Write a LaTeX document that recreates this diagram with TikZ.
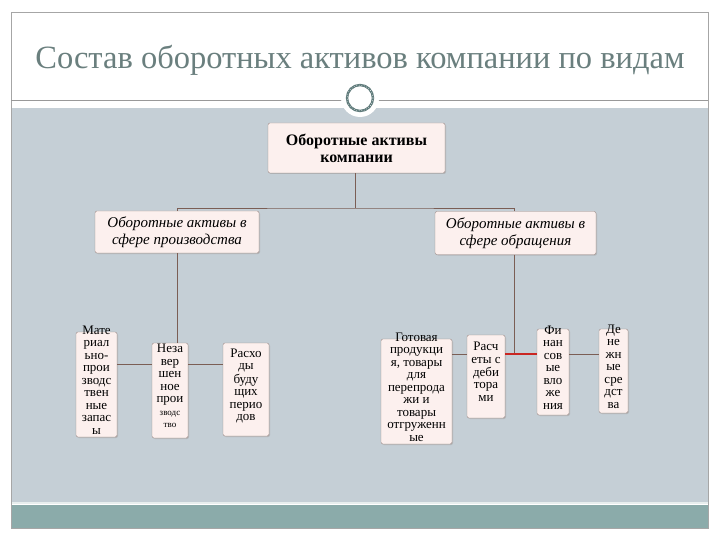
\documentclass[tikz,border=0pt]{standalone}
\usepackage{fontspec}
\setmainfont{Liberation Serif}
\usetikzlibrary{shadows}

\definecolor{slidebg}{HTML}{C5CFD6}
\definecolor{bandteal}{HTML}{8BABAA}
\definecolor{titlegray}{HTML}{6A7F7E}
\definecolor{ringteal}{HTML}{5F7B7B}
\definecolor{boxfill}{HTML}{FCF0EE}
\definecolor{boxline}{HTML}{9C8A86}
\definecolor{linkbrown}{HTML}{7B5E55}

\newcommand{\cellText}[1]{\smash{\begin{tabular}{@{}c@{}}#1\end{tabular}}}

\tikzset{
  box/.style={draw=boxline,fill=boxfill,rounded corners=2pt,inner sep=0pt,
    drop shadow={shadow xshift=1pt,shadow yshift=-1pt,fill=black!35,opacity=.6}},
  cell/.style={box,font=\fontsize{13}{12.5}\selectfont},
  link/.style={draw=linkbrown,line width=0.8pt}
}

\begin{document}
\begin{tikzpicture}[x=1pt,y=-1pt]
  \useasboundingbox (0,0) rectangle (720,540);
  % slide background
  \fill[white] (0,0) rectangle (720,540);
  \fill[slidebg] (11,108) rectangle (708,503);
  \fill[bandteal] (11,505) rectangle (708,528);
  \draw[white!80!bandteal,line width=1.5pt] (11,503) -- (708,503);
  \draw[gray!70,line width=0.6pt] (11,12) rectangle (708,528);
  \draw[gray!80,line width=0.8pt] (11,100) -- (708,100);
  \node[text=titlegray,font=\fontsize{32.5}{34}\selectfont] (title) at (360,60) {Состав оборотных активов компании по видам};
  % ornament
  \node[circle,fill=white,minimum size=38pt,inner sep=0pt] (orn) at (360,98) {};
  \draw[ringteal,line width=2.4pt] (orn.center) circle (13);
  \draw[white,line width=0.6pt,dotted] (orn.center) circle (13);

  % top level
  \node[box,minimum width=177pt,minimum height=50pt,font=\bfseries\fontsize{16}{17}\selectfont,align=center] (top) at (356.5,148) {Оборотные активы\\компании};

  % second level
  \node[box,minimum width=164pt,minimum height=42pt,font=\itshape\fontsize{15}{17}\selectfont,align=center] (prod) at (177,232) {Оборотные активы в\\сфере производства};
  \node[box,minimum width=161pt,minimum height=43pt,font=\itshape\fontsize{15}{17}\selectfont,align=center] (circ) at (515.5,233) {Оборотные активы в\\сфере обращения};

  % third level, production
  \node[cell,minimum width=41pt,minimum height=105pt] (mat) at (96.5,384.5) {\cellText{Мате\\риал\\ьно-\\прои\\зводс\\твен\\ные\\запас\\ы}};
  \node[cell,minimum width=36pt,minimum height=95pt] (nez) at (170,390.5) {\cellText{Неза\\вер\\шен\\ное\\прои\\{\small зводс}\\{\small тво}}};
  \node[cell,minimum width=46pt,minimum height=93pt] (ras) at (246,389.5) {\cellText{Расхо\\ды\\буду\\щих\\перио\\дов}};

  % third level, circulation
  \node[cell,minimum width=71pt,minimum height=105pt] (got) at (416.5,391.5) {\cellText{Готовая\\продукци\\я, товары\\для\\перепрода\\жи и\\товары\\отгруженн\\ые}};
  \node[cell,minimum width=38pt,minimum height=83pt] (deb) at (486,376.5) {\cellText{Расч\\еты с\\деби\\тора\\ми}};
  \node[cell,minimum width=32pt,minimum height=86pt] (fin) at (553,372) {\cellText{Фи\\нан\\сов\\ые\\вло\\же\\ния}};
  \node[cell,minimum width=29pt,minimum height=84pt] (den) at (613.5,371) {\cellText{Де\\не\\жн\\ые\\сре\\дст\\ва}};

  % connectors
  \coordinate (bus) at (355,208);
  \coordinate (lrow) at (177,364);
  \coordinate (rrow) at (514,354);
  \draw[link] (top.south -| bus) -- (bus);
  \draw[link] (prod.north) |- (bus) -| (circ.north -| rrow);
  \draw[link] (prod.south -| lrow) -- (nez.north -| lrow);
  \draw[link] (mat.east |- lrow) -- (nez.west |- lrow);
  \draw[link] (nez.east |- lrow) -- (ras.west |- lrow);
  \draw[link] (circ.south -| rrow) -- (rrow);
  \draw[link] (got.east |- rrow) -- (deb.west |- rrow);
  \draw[link,draw=red!60!linkbrown,line width=1.6pt] (deb.east |- rrow) -- (fin.west |- rrow);
  \draw[link] (fin.east |- rrow) -- (den.west |- rrow);
\end{tikzpicture}
\end{document}
